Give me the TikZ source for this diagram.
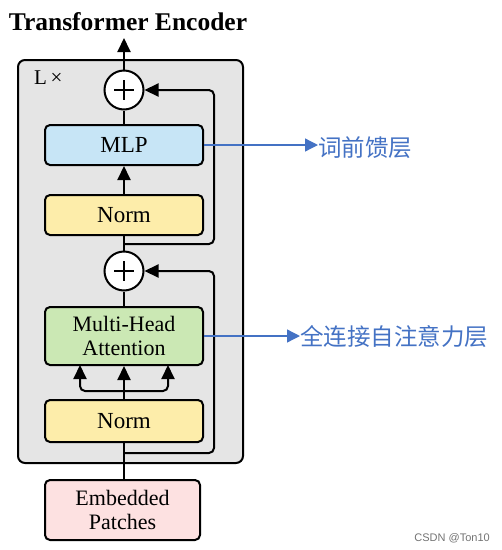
\documentclass[tikz,border=0pt]{standalone}
\usepackage{fontspec}
\setmainfont{Liberation Serif}
\newfontfamily\cjk{Noto Sans CJK SC}
\newfontfamily\wm{Liberation Sans}
\usetikzlibrary{arrows.meta}
\definecolor{boxgray}{HTML}{E5E5E5}
\definecolor{mlpblue}{HTML}{C7E5F6}
\definecolor{normyel}{HTML}{FDEDAA}
\definecolor{mhagreen}{HTML}{CBE8B4}
\definecolor{embpink}{HTML}{FDE1E1}
\definecolor{noteblue}{HTML}{4472C4}
\begin{document}
\begin{tikzpicture}[x=1pt,y=-1pt,
  blk/.style={draw=black,line width=2pt,rounded corners=5pt,minimum width=158pt,align=center,font=\fontsize{23}{24}\selectfont,inner sep=0pt},
  plus/.style={draw=black,line width=2pt,circle,fill=white,minimum size=39pt,inner sep=0pt},
  conn/.style={line width=2pt},
  arr/.style={line width=2pt,-{Triangle[length=14pt,width=13pt]}},
  note/.style={draw=noteblue,line width=1.3pt,-{Triangle[length=13pt,width=13pt]}},
  notetext/.style={text=noteblue,font=\cjk\fontsize{23.5}{24}\selectfont,anchor=west,inner sep=0pt}]
\useasboundingbox (0,0) rectangle (502,550);
% outer box
\node[draw=black,line width=2pt,rounded corners=7pt,fill=boxgray,minimum width=225pt,minimum height=403pt,inner sep=0pt] (outer) at (130.5,261.5) {};
\node[anchor=west,font=\fontsize{21}{22}\selectfont,inner sep=0pt] (lx) at (34,78) {L\,×};
\node[font=\bfseries\fontsize{25.5}{26}\selectfont,inner sep=0pt] (title) at (128,22) {Transformer Encoder};
\coordinate (top) at (124,38);
% blocks
\node[plus] (p1) at (124,90) {};
\draw[line width=2.2pt] (p1.center) ++(-10,0) -- ++(20,0) (p1.center) ++(0,-10) -- ++(0,20);
\node[blk,fill=mlpblue,minimum height=40pt] (mlp) at (124,145) {MLP};
\node[blk,fill=normyel,minimum height=40pt] (norm2) at (124,215) {Norm};
\node[plus] (p2) at (124,271) {};
\draw[line width=2.2pt] (p2.center) ++(-10,0) -- ++(20,0) (p2.center) ++(0,-10) -- ++(0,20);
\node[blk,fill=mhagreen,minimum height=58pt,font=\fontsize{22}{24}\selectfont] (mha) at (124,336) {Multi-Head\\Attention};
\node[blk,fill=normyel,minimum height=42pt] (norm1) at (124,421) {Norm};
\node[blk,fill=embpink,minimum height=60pt,minimum width=155pt,font=\fontsize{22}{24}\selectfont] (emb) at (122.5,510) {Embedded\\Patches};
% connectors
\draw[arr] (p1.north) -- (top);
\draw[conn] (mlp.north) -- (p1.south);
\draw[arr] (norm2.north) -- (mlp.south);
\coordinate (b2) at (124,244);
\draw[conn] (p2.north) -- (norm2.south);
\draw[arr,rounded corners=5pt] (b2) -- (214,244) -- (214,90) -- (p1.east);
\draw[conn] (mha.north) -- (p2.south);
\coordinate (fork) at (124,391);
\draw[conn] (norm1.north) -- (fork);
\draw[arr] (fork) -- (mha.south);
\draw[arr,rounded corners=5pt] (fork) -- (80,391) -- (80,365);
\draw[arr,rounded corners=5pt] (fork) -- (168,391) -- (168,365);
\coordinate (b1) at (124,453);
\draw[conn] (emb.north -| b1) -- (norm1.south);
\draw[arr,rounded corners=5pt] (b1) -- (214,453) -- (214,271) -- (p2.east);
% notes
\node[notetext] (n1) at (318,148) {词前馈层};
\node[notetext] (n2) at (300,337) {全连接自注意力层};
\draw[note] (mlp.east) -- (n1.west |- mlp.east);
\draw[note] (mha.east) -- (n2.west |- mha.east);
\node[anchor=east,text=black!55,font=\wm\fontsize{11}{12}\selectfont,inner sep=0pt] (wm) at (490,538) {CSDN @Ton10};
\end{tikzpicture}
\end{document}
